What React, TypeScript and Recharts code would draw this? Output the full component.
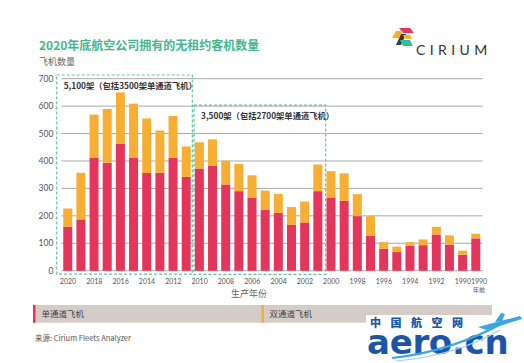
import React from "react";
import { BarChart, Bar, XAxis, YAxis, CartesianGrid, ReferenceArea } from "recharts";

const years = [
  "2020", "2019", "2018", "2017", "2016", "2015", "2014", "2013", "2012", "2011",
  "2010", "2009", "2008", "2007", "2006", "2005", "2004", "2003", "2002", "2001",
  "2000", "1999", "1998", "1997", "1996", "1995", "1994", "1993", "1992", "1991",
  "1990", "1990年前",
];
const singleAisle = [
  160, 187, 411, 394, 464, 413, 356, 357, 413, 342,
  373, 382, 314, 290, 265, 223, 211, 167, 176, 290,
  267, 255, 199, 128, 80, 68, 91, 93, 132, 95,
  58, 118,
];
const twinAisle = [
  67, 170, 158, 196, 186, 196, 199, 154, 151, 111,
  95, 97, 87, 99, 83, 69, 69, 65, 76, 97,
  96, 100, 80, 71, 24, 20, 13, 21, 28, 34,
  15, 17,
];
const yTicks = [0, 100, 200, 300, 400, 500, 600, 700];
const boxes = [
  { from: "2020", to: "2011", top: 700, label: "5,100架（包括3500架单通道飞机）" },
  { from: "2010", to: "2001", top: 600, label: "3,500架（包括2700架单通道飞机）" },
];
const title = "2020年底航空公司拥有的无租约客机数量";
const subtitle = "飞机数量";
const xTitle = "生产年份";
const legendItems = ["单通道飞机", "双通道飞机"];
const source = "来源:  Cirium Fleets Analyzer";

const data = years.map((y, i) => ({ year: y, single: singleAisle[i], twin: twinAisle[i] }));

const RED = "#e4365c";
const ORANGE = "#f7ae33";
const GREEN = "#45b78e";
const FONT = "Lato, 'Noto Sans CJK SC', sans-serif";
const CJK = "'Noto Sans CJK SC', Lato, sans-serif";

const XTick = (props: any) => {
  const { x, y, payload, index } = props;
  const v: string = payload.value;
  if (v === "1990年前") {
    return (
      <g>
        <text x={x + 3} y={y + 5} textAnchor="middle" fontSize={7} fill="#555" fontFamily={FONT}>1990</text>
        <text x={x + 3} y={y + 13.5} textAnchor="middle" fontSize={6} fill="#555" fontFamily={CJK}>年前</text>
      </g>
    );
  }
  if (index % 2 !== 0) return null;
  return (
    <text x={x} y={y + 5} textAnchor="middle" fontSize={7} fill="#555" fontFamily={FONT}>{v}</text>
  );
};

const makeBoxShape = (label: string, pad: { l: number; r: number; t: number; b: number }) => (props: any) => {
  const { x, y, width, height } = props;
  const bx = x - pad.l;
  const by = y - pad.t;
  return (
    <g>
      <rect x={bx} y={by} width={width + pad.l + pad.r} height={height + pad.t + pad.b}
        fill="none" stroke="#5ec5a3" strokeWidth={1.2} strokeDasharray="3 2" />
      <text x={bx + 7} y={by + 14} fontSize={8.3} fontWeight={700} fill="#333" fontFamily={CJK}>{label}</text>
    </g>
  );
};

export default function App() {
  return (
    <div style={{ position: "absolute", left: 0, top: 0, width: 524, height: 363, background: "#fff", overflow: "hidden" }}>
      <BarChart
        width={524}
        height={363}
        data={data}
        margin={{ top: 78.7, right: 41.4, bottom: 62.3, left: 0 }}
        barCategoryGap="14%"
      >
        <CartesianGrid vertical={false} stroke="#aaaaaa" strokeWidth={1} />
        <XAxis dataKey="year" interval={0} axisLine={false} tickLine={false} height={30} tick={<XTick />} />
        <YAxis
          width={61.4}
          domain={[0, 700]}
          ticks={yTicks}
          axisLine={false}
          tickLine={false}
          tick={{ fontSize: 8.5, fill: "#555", fontFamily: FONT }}
        />
        <Bar dataKey="single" stackId="a" fill={RED} isAnimationActive={false} />
        <Bar dataKey="twin" stackId="a" fill={ORANGE} isAnimationActive={false} />
        <ReferenceArea
          x1={boxes[0].from} x2={boxes[0].to} y1={0} y2={boxes[0].top}
          ifOverflow="visible"
          shape={makeBoxShape(boxes[0].label, { l: 4.7, r: -0.7, t: 3.7, b: 3.4 })}
        />
        <ReferenceArea
          x1={boxes[1].from} x2={boxes[1].to} y1={0} y2={boxes[1].top}
          ifOverflow="visible"
          shape={makeBoxShape(boxes[1].label, { l: -1, r: 1, t: 1, b: 3.6 })}
        />
      </BarChart>
      <svg width={524} height={363} style={{ position: "absolute", left: 0, top: 0, pointerEvents: "none" }}>
        <text x={39} y={49.5} fontSize={12} fontWeight={700} fill={GREEN} fontFamily={CJK}>{title}</text>
        <text x={39} y={64.5} fontSize={9} fill="#666" fontFamily={CJK}>{subtitle}</text>
        {/* Cirium logo */}
        <g>
          <polygon points="399,28 410,28 414,33 403,33" fill="#e5345c" />
          <polygon points="396,31 403,31 399,38 392,38" fill="#f7b02e" />
          <polygon points="401,34 406,34 401,45 396,45" fill="#3a3a3a" />
          <polygon points="400,40 410,40 413,46 403,46" fill="#2dbfa0" />
          <polygon points="403,35 410,35 412,39 405,39" fill="#f7b02e" />
          <text x={416} y={55} fontSize={14} fill="#333" fontFamily="Lato, sans-serif" letterSpacing={4.4}>CIRIUM</text>
        </g>
        <text x={249} y={297} textAnchor="middle" fontSize={9} fill="#666" fontFamily={CJK}>{xTitle}</text>
        {/* legend bar */}
        <rect x={33} y={305} width={459} height={17.7} fill="#d5cbc7" />
        <rect x={33} y={305} width={2.5} height={17.7} fill={RED} />
        <rect x={261.5} y={305} width={2.5} height={17.7} fill={ORANGE} />
        <text x={41.5} y={316.5} fontSize={8.5} fill="#444" fontFamily={CJK}>{legendItems[0]}</text>
        <text x={269.5} y={316.5} fontSize={8.5} fill="#444" fontFamily={CJK}>{legendItems[1]}</text>
        <text x={35} y={340.5} fontSize={7.5} fill="#555" fontFamily={CJK}>{source}</text>
        {/* watermark */}
        <rect x={366} y={315} width={158} height={48} fill="#fff" />
        <text x={370} y={327} fontSize={11} fontWeight={900} fill="#1c55a8" fontFamily={CJK} letterSpacing={9.5}>中国航空网</text>
        <text x={367} y={354} fontSize={34} fontWeight={700} fill="#1c55a8" fontFamily="'DejaVu Sans', sans-serif" letterSpacing={-0.3}>aero.cn</text>
        <path d="M392,358 Q450,352 505,322" fill="none" stroke="#3aa6e2" strokeWidth={2.2} />
        <path d="M396,361 Q455,356 500,330" fill="none" stroke="#9fd3f2" strokeWidth={1.2} />
        <polygon points="478,327 520,316 522,319 486,330" fill="#3aa6e2" />
        <polygon points="495,322 501,313 505,314 502,321" fill="#3aa6e2" />
      </svg>
    </div>
  );
}
